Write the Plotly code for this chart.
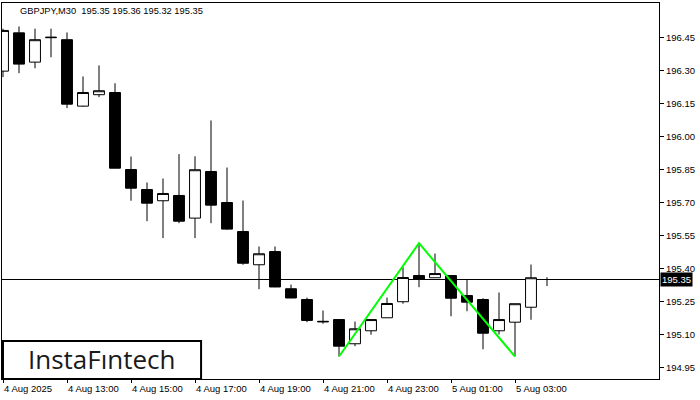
import plotly.graph_objects as go

# ---- data (GBPJPY M30) ----
bar_index = list(range(35))
opens = [196.297, 196.471, 196.338, 196.449, 196.440, 196.138, 196.190, 196.200, 195.850, 195.759,
         195.708, 195.732, 195.629, 195.841, 195.700, 195.568, 195.417, 195.477, 195.308, 195.259,
         195.160, 195.168, 195.058, 195.117, 195.176, 195.249, 195.368, 195.358, 195.368, 195.277,
         195.259, 195.117, 195.156, 195.224, 195.350]
highs = [196.490, 196.500, 196.490, 196.490, 196.473, 196.273, 196.323, 196.242, 195.909, 195.791,
         195.809, 195.920, 195.910, 196.073, 195.859, 195.709, 195.500, 195.500, 195.327, 195.268,
         195.209, 195.168, 195.159, 195.170, 195.268, 195.406, 195.515, 195.468, 195.368, 195.349,
         195.265, 195.291, 195.240, 195.418, 195.360]
lows = [196.270, 196.288, 196.310, 196.360, 196.129, 196.135, 196.179, 195.855, 195.708, 195.615,
        195.538, 195.606, 195.538, 195.606, 195.576, 195.417, 195.306, 195.315, 195.265, 195.156,
        195.149, 195.000, 195.047, 195.099, 195.176, 195.240, 195.315, 195.358, 195.183, 195.206,
        195.033, 195.100, 195.001, 195.167, 195.320]
closes = [196.482, 196.329, 196.440, 196.451, 196.147, 196.200, 196.208, 195.856, 195.765, 195.697,
          195.741, 195.615, 195.849, 195.688, 195.579, 195.424, 195.467, 195.316, 195.266, 195.164,
          195.158, 195.047, 195.126, 195.168, 195.241, 195.359, 195.350, 195.377, 195.265, 195.247,
          195.106, 195.168, 195.240, 195.358, 195.350]

tick_idx = [0, 4, 8, 12, 16, 20, 24, 28, 32]
tick_text = ["4 Aug 2025", "4 Aug 13:00", "4 Aug 15:00", "4 Aug 17:00", "4 Aug 19:00",
             "4 Aug 21:00", "4 Aug 23:00", "5 Aug 01:00", "5 Aug 03:00"]
price_ticks = [194.95, 195.10, 195.25, 195.40, 195.55, 195.70, 195.85, 196.00, 196.15, 196.30, 196.45]

pattern_x = [21, 26, 32]
pattern_y = [195.000, 195.515, 195.000]

last_price = 195.35
title_text = "GBPJPY,M30  195.35 195.36 195.32 195.35"

FONT = "Liberation Sans"
fig = go.Figure()

fig.add_trace(go.Candlestick(
    x=bar_index, open=opens, high=highs, low=lows, close=closes,
    increasing=dict(line=dict(color="black", width=1), fillcolor="white"),
    decreasing=dict(line=dict(color="black", width=1), fillcolor="black"),
    whiskerwidth=0, showlegend=False, hoverinfo="skip",
))

fig.add_trace(go.Scatter(
    x=pattern_x, y=pattern_y, mode="lines",
    line=dict(color="#00ff00", width=2), showlegend=False, hoverinfo="skip",
))

# current price line
fig.add_shape(type="line", xref="paper", yref="y", x0=0, x1=1, y0=last_price, y1=last_price,
              line=dict(color="black", width=1), layer="below")

# price tag on the axis
fig.add_annotation(xref="paper", yref="y", x=1, y=last_price, text=f"{last_price:.2f}",
                   xanchor="left", yanchor="middle", showarrow=False, xshift=1,
                   bgcolor="black", font=dict(family=FONT, size=9.5, color="white"),
                   borderpad=1)

# time labels, left-aligned at their ticks
for i, t in zip(tick_idx, tick_text):
    fig.add_annotation(xref="x", yref="paper", x=i, y=-0.026, text=t, xanchor="left",
                       yanchor="middle", showarrow=False, xshift=-1,
                       font=dict(family=FONT, size=9.5, color="black"))

# header text
fig.add_annotation(xref="paper", yref="paper", x=0.024, y=0.978, text=title_text,
                   xanchor="left", yanchor="middle", showarrow=False,
                   font=dict(family=FONT, size=9.3, color="black"))

# logo box
fig.add_shape(type="rect", xref="paper", yref="paper", x0=0.0015, x1=0.303, y0=0.0, y1=0.101,
              line=dict(color="black", width=2), fillcolor="white", layer="above")
fig.add_annotation(xref="paper", yref="paper", x=0.152, y=0.052, text="InstaF\u0131ntech",
                   xanchor="center", yanchor="middle", showarrow=False,
                   font=dict(family="Open Sans", size=26, color="#1a1a1a", weight=500))

fig.update_layout(
    width=700, height=400,
    margin=dict(l=2, r=41, t=3, b=21),
    paper_bgcolor="white", plot_bgcolor="white",
    boxgap=0.32, boxgroupgap=0,
    showlegend=False,
    xaxis=dict(range=[-0.0625, 41.0], showgrid=False, zeroline=False,
               showline=True, mirror=True, linecolor="black", linewidth=1,
               tickvals=tick_idx, showticklabels=False, ticks="outside", ticklen=3,
               tickcolor="black", rangeslider=dict(visible=False)),
    yaxis=dict(range=[194.89777, 196.60677], side="right", showgrid=False, zeroline=False,
               showline=True, mirror=True, linecolor="black", linewidth=1,
               tickvals=price_ticks, tickformat=".2f", ticks="outside", ticklen=4,
               tickcolor="black", tickfont=dict(family=FONT, size=9.5, color="black")),
)

fig.write_html("out.html", config={"displayModeBar": False},
               post_script="document.body.style.margin='0';")
